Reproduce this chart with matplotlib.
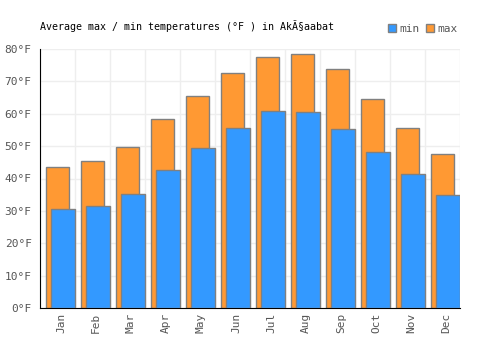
import matplotlib.pyplot as plt
from matplotlib.patches import Patch
from matplotlib.ticker import MultipleLocator

months = ["Jan", "Feb", "Mar", "Apr", "May", "Jun", "Jul", "Aug", "Sep", "Oct", "Nov", "Dec"]
t_max = [43.5, 45.3, 49.7, 58.3, 65.5, 72.6, 77.4, 78.4, 73.8, 64.5, 55.5, 47.5]
t_min = [30.5, 31.4, 35.2, 42.7, 49.4, 55.5, 60.9, 60.4, 55.2, 48.1, 41.3, 34.9]

plt.rcParams['font.family'] = ['DejaVu Sans Mono']

fig = plt.figure(figsize=(5, 3.5), dpi=100)
ax = fig.add_axes([0.08, 0.12, 0.84, 0.74])

x = list(range(len(months)))
ax.bar([i + 0.18 for i in x], t_max, width=0.66, align='edge',
       color='#ff9933', edgecolor='#808080', linewidth=1, zorder=2)
ax.bar([i + 0.31 for i in x], t_min, width=0.70, align='edge',
       color='#3399ff', edgecolor='#808080', linewidth=1, zorder=3)

ax.set_xlim(0, 12)
ax.set_ylim(0, 80)
ax.yaxis.set_major_locator(MultipleLocator(10))
ax.set_yticklabels([f"{int(v)}°F" for v in ax.get_yticks()])
ax.set_xticks([i + 0.6 for i in x])
ax.set_xticklabels(months, rotation=90)
ax.set_xticks(list(range(13)), minor=True)

ax.grid(True, axis='y', color='#eeeeee', linewidth=1, zorder=0)
ax.grid(True, axis='x', which='minor', color='#eeeeee', linewidth=1, zorder=0)
ax.tick_params(axis='both', which='both', length=0, labelsize=8, labelcolor='#555555')
ax.tick_params(axis='y', pad=6)

for s in ['top', 'right']:
    ax.spines[s].set_visible(False)
ax.spines['left'].set_color('black')
ax.spines['bottom'].set_color('black')

fig.text(0.08, 0.915, "Average max / min temperatures (°F ) in AkÃ§aabat", fontsize=7.2, color='black')

handles = [Patch(facecolor='#3399ff', edgecolor='#808080', label='min'),
           Patch(facecolor='#ff9933', edgecolor='#808080', label='max')]
fig.legend(handles=handles, loc='upper right', bbox_to_anchor=(0.935, 0.96), ncol=2, frameon=False,
           fontsize=8, handlelength=0.7, handleheight=0.7, handletextpad=0.3, columnspacing=0.6,
           labelcolor='#555555')

fig.savefig("out.png")
